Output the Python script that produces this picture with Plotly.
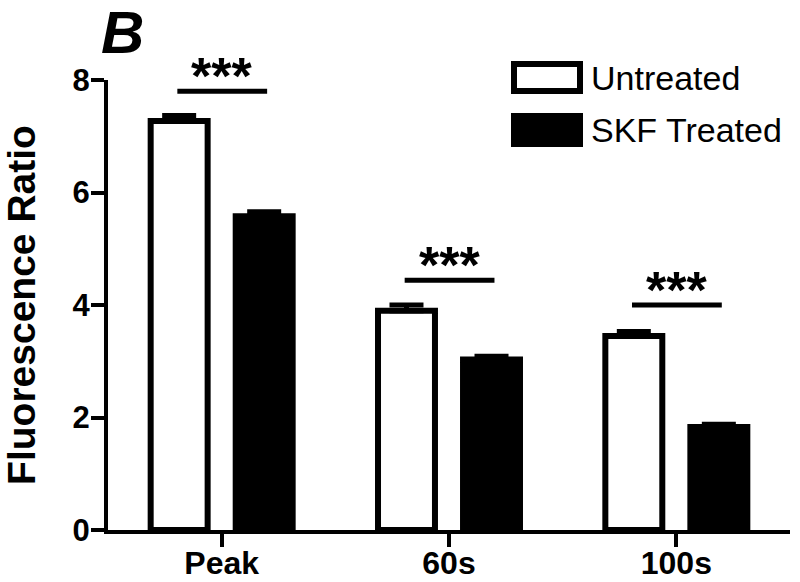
import plotly.graph_objects as go

categories = ["Peak", "60s", "100s"]
untreated = [7.27, 3.90, 3.45]
untreated_err = [0.10, 0.10, 0.08]
skf = [5.58, 3.03, 1.83]
skf_err = [0.08, 0.06, 0.05]
sig_y = [7.80, 4.44, 4.00]
sig_text = ["***", "***", "***"]
yticks = [0, 2, 4, 6, 8]
xpos = list(range(len(categories)))

FONT = "Liberation Sans, Arial, sans-serif"

fig = go.Figure()
fig.add_trace(go.Bar(
    x=xpos, y=untreated, name="Untreated",
    marker=dict(color="white", line=dict(color="black", width=6)),
    error_y=dict(type="data", array=untreated_err, arrayminus=[0]*3, symmetric=False,
                 color="black", thickness=5, width=17),
))
fig.add_trace(go.Bar(
    x=xpos, y=skf, name="SKF Treated",
    marker=dict(color="black", line=dict(color="black", width=6)),
    error_y=dict(type="data", array=skf_err, arrayminus=[0]*3, symmetric=False,
                 color="black", thickness=5, width=17),
))

# significance lines and stars
for i, (yv, t) in enumerate(zip(sig_y, sig_text)):
    fig.add_shape(type="line", xref="x", yref="y", x0=i - 0.195, x1=i + 0.2, y0=yv, y1=yv,
                  line=dict(color="black", width=5))
    fig.add_annotation(x=i, y=yv, xref="x", yref="y", text=t, showarrow=False,
                       yanchor="bottom", yshift=-16,
                       font=dict(family=FONT, size=52, color="black", weight="bold"))

# panel letter
fig.add_annotation(xref="paper", yref="paper", x=0, y=1, xanchor="left", yanchor="bottom",
                   xshift=-9, yshift=12, text="<b><i>B</i></b>", showarrow=False,
                   font=dict(family=FONT, size=60, color="black"))

# legend (manual)
W, H, L, T = 682.0, 450.0, 108.0, 80.0
def px(xp):
    return (xp - L) / W
def py(yp):
    return (T + H - yp) / H

legend_items = [("Untreated", "white", 64, 91), ("SKF Treated", "black", 116, 144)]
for label, fill, y0, y1 in legend_items:
    fig.add_shape(type="rect", xref="paper", yref="paper", x0=px(514), x1=px(580),
                  y0=py(y1), y1=py(y0), fillcolor=fill, line=dict(color="black", width=6))
    fig.add_annotation(xref="paper", yref="paper", x=px(589), y=py((y0 + y1) / 2),
                       xanchor="left", yanchor="middle", text=label, showarrow=False,
                       font=dict(family=FONT, size=34, color="black"))

fig.update_layout(
    width=800, height=582,
    margin=dict(l=108, r=10, t=80, b=52),
    paper_bgcolor="white", plot_bgcolor="white",
    barmode="group", bargap=0.252, bargroupgap=0.33,
    showlegend=False,
    font=dict(family=FONT, color="black"),
)
fig.update_xaxes(
    range=[-0.5, 2.5], tickvals=xpos, ticktext=categories, automargin=False,
    showline=True, linecolor="black", linewidth=4,
    ticks="outside", ticklen=13, tickwidth=4, tickcolor="black",
    showgrid=False, zeroline=False, ticklabelstandoff=-11,
    tickfont=dict(family=FONT, size=32, color="black", weight="bold"),
)
fig.update_yaxes(
    range=[0, 8], tickvals=yticks, automargin=False,
    showline=True, linecolor="black", linewidth=4,
    ticks="outside", ticklen=13, tickwidth=4, tickcolor="black",
    showgrid=False, zeroline=False, ticklabelstandoff=-5,
    tickfont=dict(family=FONT, size=31, color="black", weight="bold"),
    title=dict(text="Fluorescence Ratio", standoff=34,
               font=dict(family=FONT, size=39, color="black", weight="bold")),
)

fig.write_html("out.html", config={"displayModeBar": False},
               post_script="document.body.style.margin='0px';")
